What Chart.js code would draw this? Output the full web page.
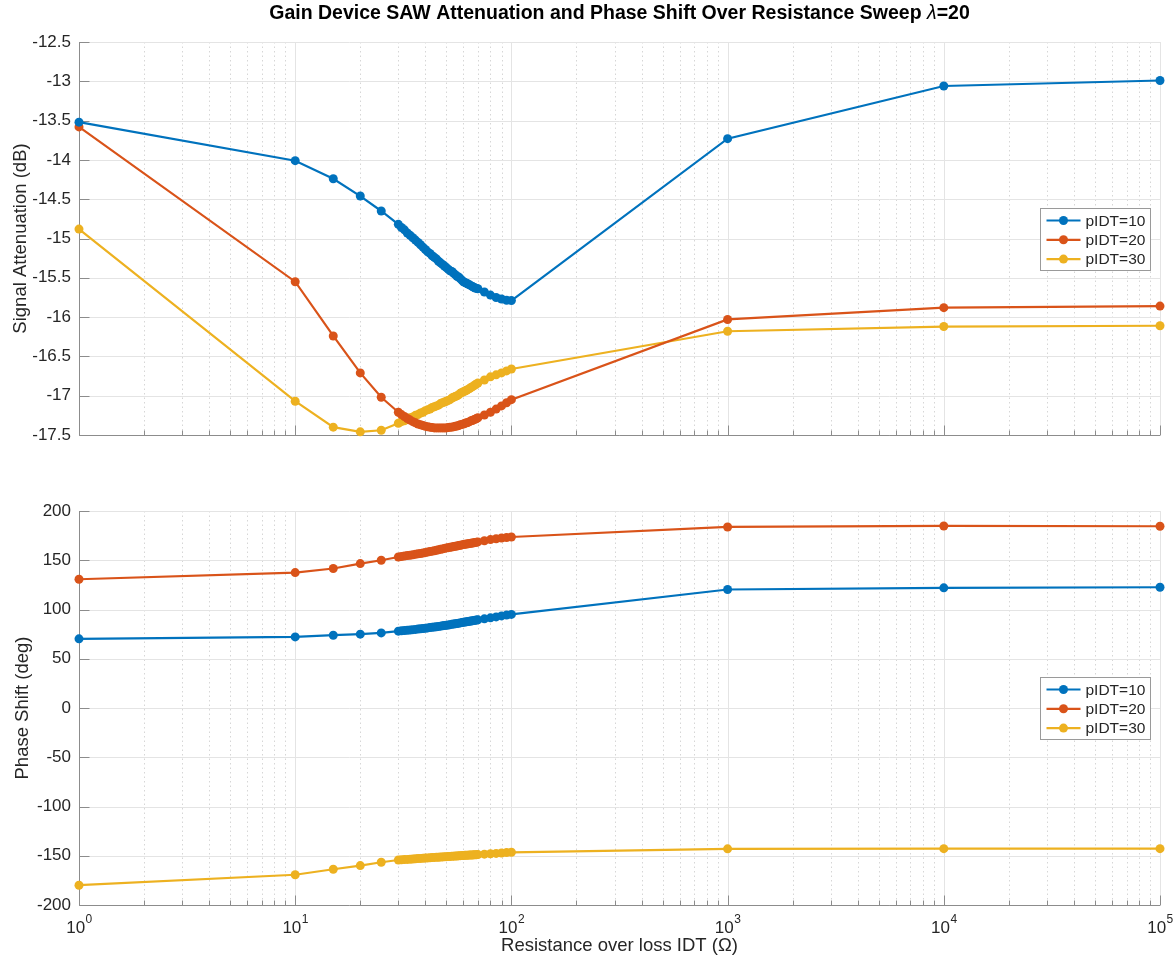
<!DOCTYPE html>
<html>
<head>
<meta charset="utf-8">
<title>Gain Device SAW Attenuation and Phase Shift</title>
<script src="https://cdn.jsdelivr.net/npm/chart.js@4.4.1/dist/chart.umd.min.js"></script>
<style>
  html, body { margin: 0; padding: 0; background: #ffffff; }
  #wrap { position: relative; width: 1175px; height: 963px; overflow: hidden; }
  #wrap canvas { position: absolute; left: 0; }
</style>
</head>
<body>
<div id="wrap">
  <canvas id="attn" width="1175" height="460" style="top:0px"></canvas>
  <canvas id="phase" width="1175" height="503" style="top:460px"></canvas>
</div>
<script>
// Resistance sweep (ohms)
const resistance = [1, 10, 15, 20, 25,
  30, 31, 32, 33, 34, 35, 36, 37, 38, 39,
  40, 41, 42, 43, 44, 45, 46, 47, 48, 49,
  50, 51, 52, 53, 54, 55, 56, 57, 58, 59,
  60, 61, 62, 63, 64, 65, 66, 67, 68, 69,
  70,
  75, 80, 85, 90, 95, 100,
  1000, 10000, 100000];

const seriesLabels = ['pIDT=10', 'pIDT=20', 'pIDT=30'];

// Signal attenuation (dB)
const atten10 = [-13.52, -14.01, -14.24, -14.46, -14.65,
  -14.82, -14.86, -14.89, -14.93, -14.96, -14.99, -15.02, -15.05, -15.08, -15.11,
  -15.14, -15.17, -15.19, -15.22, -15.24, -15.26, -15.29, -15.31, -15.33, -15.35,
  -15.37, -15.39, -15.41, -15.42, -15.44, -15.46, -15.48, -15.49, -15.51, -15.53,
  -15.55, -15.56, -15.57, -15.58, -15.59, -15.60, -15.61, -15.62, -15.63, -15.635,
  -15.64,
  -15.68, -15.72, -15.75, -15.77, -15.785, -15.79,
  -13.73, -13.06, -12.99];

const atten20 = [-13.58, -15.55, -16.24, -16.71, -17.02,
  -17.21, -17.24, -17.265, -17.29, -17.31, -17.33, -17.345, -17.36, -17.37, -17.38,
  -17.39, -17.395, -17.40, -17.405, -17.41, -17.41, -17.41, -17.41, -17.41, -17.41,
  -17.41, -17.405, -17.40, -17.40, -17.395, -17.39, -17.385, -17.38, -17.37, -17.365,
  -17.36, -17.35, -17.345, -17.34, -17.33, -17.32, -17.315, -17.305, -17.30, -17.29,
  -17.28,
  -17.245, -17.21, -17.17, -17.13, -17.09, -17.05,
  -16.03, -15.88, -15.86];

const atten30 = [-14.88, -17.07, -17.40, -17.46, -17.44,
  -17.35, -17.33, -17.32, -17.30, -17.28, -17.27, -17.25, -17.24, -17.22, -17.21,
  -17.19, -17.18, -17.17, -17.15, -17.14, -17.13, -17.12, -17.10, -17.09, -17.08,
  -17.07, -17.06, -17.05, -17.03, -17.02, -17.01, -17.00, -16.99, -16.97, -16.96,
  -16.95, -16.94, -16.93, -16.92, -16.91, -16.895, -16.885, -16.875, -16.86, -16.85,
  -16.84,
  -16.80, -16.76, -16.735, -16.71, -16.685, -16.66,
  -16.18, -16.12, -16.11];

// Phase shift (deg)
const phase10 = [70.2, 72.2, 73.9, 75.0, 76.2,
  78.0, 78.3, 78.6, 78.9, 79.2, 79.5, 79.8, 80.1, 80.4, 80.7,
  81.0, 81.3, 81.6, 81.9, 82.2, 82.5, 82.8, 83.1, 83.4, 83.7,
  84.0, 84.3, 84.6, 84.9, 85.2, 85.5, 85.8, 86.1, 86.4, 86.7,
  87.0, 87.25, 87.5, 87.75, 88.0, 88.25, 88.5, 88.75, 89.0, 89.25,
  89.5,
  90.5, 91.5, 92.5, 93.5, 94.3, 95.0,
  120.3, 122.0, 122.6];

const phase20 = [130.7, 137.5, 141.6, 146.6, 150.0,
  153.3, 153.8, 154.2, 154.7, 155.1, 155.6, 156.0, 156.5, 156.9, 157.4,
  157.8, 158.3, 158.8, 159.2, 159.7, 160.1, 160.6, 161.1, 161.5, 162.0,
  162.5, 162.8, 163.2, 163.5, 163.9, 164.2, 164.5, 164.9, 165.2, 165.6,
  165.9, 166.2, 166.4, 166.7, 167.0, 167.3, 167.5, 167.8, 168.1, 168.3,
  168.6,
  169.8, 171.0, 171.8, 172.6, 173.1, 173.6,
  183.8, 184.8, 184.5];

const phase30 = [-179.9, -169.3, -163.7, -160.0, -156.6,
  -154.3, -154.1, -153.9, -153.7, -153.5, -153.3, -153.1, -152.9, -152.7, -152.5,
  -152.3, -152.2, -152.0, -151.9, -151.7, -151.6, -151.5, -151.3, -151.2, -151.0,
  -150.9, -150.8, -150.7, -150.6, -150.4, -150.3, -150.2, -150.1, -149.9, -149.8,
  -149.7, -149.6, -149.5, -149.4, -149.3, -149.25, -149.2, -149.1, -149.0, -148.9,
  -148.8,
  -148.4, -148.0, -147.6, -147.2, -146.8, -146.5,
  -143.0, -142.8, -142.8];

const xExponents = [0, 1, 2, 3, 4, 5];

const seriesColors = ['#0072BD', '#D95319', '#EDB120'];
const FONT = '"Liberation Sans", Arial, Helvetica, sans-serif';
const TEXT_COLOR = '#262626';
const AXIS_COLOR = '#8c8c8c';
const GRID_COLOR = '#e4e4e4';
const MINOR_GRID_COLOR = '#d6d6d6';

function strokeLine(ctx, x1, y1, x2, y2) {
  ctx.beginPath();
  ctx.moveTo(x1, y1);
  ctx.lineTo(x2, y2);
  ctx.stroke();
}

// 1..9 x 10^e positions across the log axis range
function logGridValues(scale) {
  const out = [];
  const lo = Math.round(Math.log10(scale.min));
  const hi = Math.round(Math.log10(scale.max));
  for (let e = lo; e <= hi; e++) {
    for (let m = 1; m <= 9; m++) {
      const v = m * Math.pow(10, e);
      if (v <= scale.max * 1.000001) out.push({ v, major: m === 1 });
    }
  }
  return out;
}

// Boxed axes look: grid under the data, inward ticks, legend box, labels
const axesLook = {
  id: 'axesLook',
  beforeDatasetsDraw(chart) {
    const { ctx, chartArea: a, scales: { x, y } } = chart;
    ctx.save();
    ctx.lineWidth = 1;

    // vertical grid lines (solid on decades, dotted between)
    logGridValues(x).forEach(({ v, major }) => {
      const px = Math.round(x.getPixelForValue(v)) + 0.5;
      if (major) { ctx.setLineDash([]); ctx.strokeStyle = GRID_COLOR; }
      else { ctx.setLineDash([1.5, 3]); ctx.strokeStyle = MINOR_GRID_COLOR; }
      strokeLine(ctx, px, a.top, px, a.bottom);
    });
    ctx.setLineDash([]);

    // horizontal grid lines
    ctx.strokeStyle = GRID_COLOR;
    y.ticks.forEach(t => {
      const py = Math.round(y.getPixelForValue(t.value)) + 0.5;
      strokeLine(ctx, a.left, py, a.right, py);
    });

    // axis lines
    ctx.strokeStyle = AXIS_COLOR;
    const lx = Math.round(a.left) + 0.5;
    const by = Math.round(a.bottom) + 0.5;
    strokeLine(ctx, lx, a.top, lx, by);
    strokeLine(ctx, lx, by, a.right, by);

    // inward ticks on the left axis
    y.ticks.forEach(t => {
      const py = Math.round(y.getPixelForValue(t.value)) + 0.5;
      strokeLine(ctx, lx, py, lx + 10, py);
    });
    // inward ticks on the bottom axis
    logGridValues(x).forEach(({ v, major }) => {
      const px = Math.round(x.getPixelForValue(v)) + 0.5;
      strokeLine(ctx, px, by, px, by - (major ? 10 : 5));
    });
    ctx.restore();
  },
  afterDraw(chart, args, opts) {
    const { ctx, chartArea: a, scales: { x } } = chart;
    ctx.save();

    // legend
    const w = 110, h = 62;
    const bx = Math.round(a.right - 10 - w) + 0.5;
    const by = Math.round((a.top + a.bottom) / 2 - h / 2) + 0.5;
    ctx.fillStyle = '#ffffff';
    ctx.fillRect(bx, by, w, h);
    ctx.strokeStyle = '#9a9a9a';
    ctx.lineWidth = 1;
    ctx.strokeRect(bx, by, w, h);
    chart.data.datasets.forEach((ds, i) => {
      const ry = by + 12 + i * 19.3;
      ctx.strokeStyle = ds.borderColor;
      ctx.lineWidth = 2.2;
      strokeLine(ctx, bx + 6, ry, bx + 40, ry);
      ctx.fillStyle = ds.borderColor;
      ctx.beginPath();
      ctx.arc(bx + 23, ry, 4.5, 0, Math.PI * 2);
      ctx.fill();
      ctx.fillStyle = TEXT_COLOR;
      ctx.font = '15.5px ' + FONT;
      ctx.textAlign = 'left';
      ctx.textBaseline = 'middle';
      ctx.fillText(ds.label, bx + 45, ry + 1);
    });

    // figure title
    if (opts.title) {
      const parts = [
        { t: 'Gain Device SAW Attenuation and Phase Shift Over Resistance Sweep ', f: 'bold 19.5px ' + FONT },
        { t: 'λ', f: 'italic 19.5px ' + FONT },
        { t: '=20', f: 'bold 19.5px ' + FONT }
      ];
      let total = 0;
      parts.forEach(p => { ctx.font = p.f; p.w = ctx.measureText(p.t).width; total += p.w; });
      let cx = (a.left + a.right) / 2 - total / 2;
      ctx.fillStyle = '#000000';
      ctx.textAlign = 'left';
      ctx.textBaseline = 'middle';
      parts.forEach(p => { ctx.font = p.f; ctx.fillText(p.t, cx, 14); cx += p.w; });
    }

    // decade tick labels 10^n
    if (opts.xLabels) {
      ctx.fillStyle = TEXT_COLOR;
      ctx.textBaseline = 'alphabetic';
      ctx.textAlign = 'left';
      xExponents.forEach(e => {
        const px = x.getPixelForValue(Math.pow(10, e));
        ctx.font = '17px ' + FONT;
        const bw = ctx.measureText('10').width;
        ctx.font = '12px ' + FONT;
        const ew = ctx.measureText(String(e)).width;
        const start = px - (bw + ew) / 2;
        ctx.font = '17px ' + FONT;
        ctx.fillText('10', start, a.bottom + 28);
        ctx.font = '12px ' + FONT;
        ctx.fillText(String(e), start + bw + 0.5, a.bottom + 18);
      });
    }
    ctx.restore();
  }
};

function buildChart(canvasId, values, cfg) {
  const datasets = values.map((vals, i) => ({
    label: seriesLabels[i],
    data: resistance.map((r, k) => ({ x: r, y: vals[k] })),
    borderColor: seriesColors[i],
    backgroundColor: seriesColors[i],
    borderWidth: 2.2,
    pointRadius: 4.5,
    pointBorderWidth: 0,
    pointHoverRadius: 4.5,
    tension: 0,
    fill: false,
    clip: false
  }));
  return new Chart(document.getElementById(canvasId), {
    type: 'line',
    data: { datasets },
    options: {
      responsive: false,
      animation: false,
      devicePixelRatio: 1,
      events: [],
      layout: { padding: { left: 0, right: 15, top: cfg.padTop, bottom: 0 } },
      plugins: {
        legend: { display: false },
        tooltip: { enabled: false },
        axesLook: { title: cfg.title, xLabels: cfg.xLabels }
      },
      scales: {
        x: {
          type: 'logarithmic',
          min: 1,
          max: 100000,
          grid: { display: false, drawTicks: false },
          border: { display: false },
          ticks: { display: false },
          title: cfg.xTitle
            ? { display: true, text: cfg.xTitle, color: TEXT_COLOR, font: { family: FONT, size: 18.5 }, padding: { top: 0, bottom: 6 } }
            : { display: false },
          afterFit: s => { s.height = cfg.xHeight; }
        },
        y: {
          type: 'linear',
          min: cfg.yMin,
          max: cfg.yMax,
          grid: { display: false, drawTicks: false },
          border: { display: false },
          ticks: {
            stepSize: cfg.yStep,
            color: TEXT_COLOR,
            font: { family: FONT, size: 17 },
            padding: 8,
            callback: v => String(Number(v.toFixed(2)))
          },
          title: { display: true, text: cfg.yTitle, color: TEXT_COLOR, font: { family: FONT, size: 18.5 }, padding: { top: cfg.yTitlePad, bottom: 0 } },
          afterFit: s => { s.width = 79; }
        }
      }
    },
    plugins: [axesLook]
  });
}

buildChart('attn', [atten10, atten20, atten30], {
  padTop: 42, xHeight: 25, yMin: -17.5, yMax: -12.5, yStep: 0.5,
  yTitle: 'Signal Attenuation (dB)', yTitlePad: 10, title: true, xLabels: false, xTitle: null
});

buildChart('phase', [phase10, phase20, phase30], {
  padTop: 51, xHeight: 58, yMin: -200, yMax: 200, yStep: 50,
  yTitle: 'Phase Shift (deg)', yTitlePad: 12, title: false, xLabels: true,
  xTitle: 'Resistance over loss IDT (Ω)'
});
</script>
</body>
</html>
